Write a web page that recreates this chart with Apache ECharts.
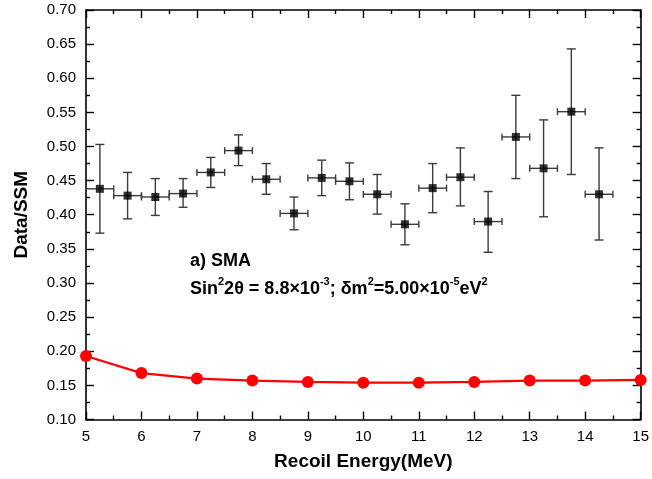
<!DOCTYPE html>
<html>
<head>
<meta charset="utf-8">
<script src="https://cdn.jsdelivr.net/npm/echarts@6/dist/echarts.min.js"></script>
<style>
html,body{margin:0;padding:0;background:#fff;}
#chart{width:652px;height:479px;}
</style>
</head>
<body>
<div id="chart"></div>
<script>
// Data
var binCenters = [5.25, 5.75, 6.25, 6.75, 7.25, 7.75, 8.25, 8.75, 9.25, 9.75, 10.25, 10.75, 11.25, 11.75, 12.25, 12.75, 13.25, 13.75, 14.25];
var binHalfWidth = [0.25, 0.25, 0.25, 0.25, 0.25, 0.25, 0.25, 0.25, 0.25, 0.25, 0.25, 0.25, 0.25, 0.25, 0.25, 0.25, 0.25, 0.25, 0.25];
var ratioValues = [0.438, 0.428, 0.426, 0.431, 0.462, 0.494, 0.452, 0.402, 0.454, 0.449, 0.430, 0.386, 0.439, 0.455, 0.390, 0.514, 0.468, 0.551, 0.430];
var ratioHigh   = [0.503, 0.462, 0.453, 0.453, 0.484, 0.517, 0.475, 0.426, 0.480, 0.476, 0.459, 0.416, 0.475, 0.498, 0.434, 0.575, 0.539, 0.643, 0.498];
var ratioLow    = [0.373, 0.394, 0.399, 0.411, 0.440, 0.472, 0.430, 0.378, 0.428, 0.422, 0.401, 0.356, 0.403, 0.413, 0.345, 0.453, 0.397, 0.459, 0.363];
var smaEnergy = [5, 6, 7, 8, 9, 10, 11, 12, 13, 14, 15];
var smaValues = [0.193, 0.168, 0.160, 0.157, 0.155, 0.154, 0.154, 0.155, 0.157, 0.157, 0.158];
var xTicks = [5, 6, 7, 8, 9, 10, 11, 12, 13, 14, 15];
var yTicks = [0.10, 0.15, 0.20, 0.25, 0.30, 0.35, 0.40, 0.45, 0.50, 0.55, 0.60, 0.65, 0.70];

var FONT = '"Liberation Sans", Arial, sans-serif';

var errData = binCenters.map(function (x, i) {
  return [x, ratioValues[i], x - binHalfWidth[i], x + binHalfWidth[i], ratioLow[i], ratioHigh[i]];
});
var pointData = binCenters.map(function (x, i) { return [x, ratioValues[i]]; });
var smaData = smaEnergy.map(function (x, i) { return [x, smaValues[i]]; });

function renderErr(params, api) {
  var x = api.value(0), y = api.value(1);
  var c = api.coord([x, y]);
  var l = api.coord([api.value(2), y]);
  var r = api.coord([api.value(3), y]);
  var lo = api.coord([x, api.value(4)]);
  var hi = api.coord([x, api.value(5)]);
  var st = { stroke: '#3a3a3a', lineWidth: 1.4 };
  var hc = 3.5, vc = 4.5;
  return {
    type: 'group',
    children: [
      { type: 'line', shape: { x1: l[0], y1: c[1], x2: r[0], y2: c[1] }, style: st },
      { type: 'line', shape: { x1: l[0], y1: c[1] - hc, x2: l[0], y2: c[1] + hc }, style: st },
      { type: 'line', shape: { x1: r[0], y1: c[1] - hc, x2: r[0], y2: c[1] + hc }, style: st },
      { type: 'line', shape: { x1: c[0], y1: lo[1], x2: c[0], y2: hi[1] }, style: st },
      { type: 'line', shape: { x1: c[0] - vc, y1: lo[1], x2: c[0] + vc, y2: lo[1] }, style: st },
      { type: 'line', shape: { x1: c[0] - vc, y1: hi[1], x2: c[0] + vc, y2: hi[1] }, style: st }
    ]
  };
}

var axisLineStyle = { show: true, lineStyle: { color: '#000', width: 1.6 } };
var tickStyle = { show: true, inside: true, length: 8, lineStyle: { color: '#000', width: 1.4 } };
var minorStyle = { show: true, splitNumber: 2, length: 4, lineStyle: { color: '#000', width: 1.4 } };

var chart = echarts.init(document.getElementById('chart'), null, { renderer: 'canvas' });
chart.setOption({
  backgroundColor: '#fff',
  animation: false,
  grid: { left: 86, right: 9.5, top: 10, bottom: 59.5, containLabel: false },
  xAxis: [
    {
      type: 'value', min: 5, max: 15, interval: 1, position: 'bottom',
      axisLine: axisLineStyle, axisTick: tickStyle, minorTick: minorStyle,
      splitLine: { show: false },
      axisLabel: { margin: 10, color: '#000', fontSize: 15, fontFamily: FONT,
        formatter: function (v) { return xTicks.indexOf(v) >= 0 ? String(v) : ''; } },
      name: 'Recoil Energy(MeV)', nameLocation: 'middle', nameGap: 33,
      nameTextStyle: { fontSize: 19, fontWeight: 'bold', color: '#000', fontFamily: FONT }
    },
    {
      type: 'value', min: 5, max: 15, interval: 1, position: 'top',
      axisLine: axisLineStyle, axisTick: tickStyle, minorTick: minorStyle,
      splitLine: { show: false }, axisLabel: { show: false }
    }
  ],
  yAxis: [
    {
      type: 'value', min: 0.1, max: 0.7, interval: 0.05, position: 'left',
      axisLine: axisLineStyle, axisTick: tickStyle, minorTick: minorStyle,
      splitLine: { show: false },
      axisLabel: { margin: 10, color: '#000', fontSize: 15, fontFamily: FONT,
        formatter: function (v) { return v.toFixed(2); } },
      name: 'Data/SSM', nameLocation: 'middle', nameGap: 55,
      nameTextStyle: { fontSize: 19, fontWeight: 'bold', color: '#000', fontFamily: FONT }
    },
    {
      type: 'value', min: 0.1, max: 0.7, interval: 0.05, position: 'right',
      axisLine: axisLineStyle, axisTick: tickStyle, minorTick: minorStyle,
      splitLine: { show: false }, axisLabel: { show: false }
    }
  ],
  series: [
    {
      type: 'custom', name: 'err', xAxisIndex: 0, yAxisIndex: 0,
      renderItem: renderErr, data: errData, clip: false, z: 3
    },
    {
      type: 'scatter', name: 'data', xAxisIndex: 0, yAxisIndex: 0,
      symbol: 'rect', symbolSize: 8, itemStyle: { color: '#000' },
      data: pointData, z: 4
    },
    {
      type: 'line', name: 'SMA', xAxisIndex: 0, yAxisIndex: 0,
      symbol: 'circle', symbolSize: 12, clip: false,
      lineStyle: { color: '#ff0000', width: 2.2 },
      itemStyle: { color: '#ff0000' },
      data: smaData, z: 5
    }
  ],
  graphic: [
    {
      type: 'text', left: 190, top: 252,
      style: { text: 'a) SMA', font: 'bold 18px ' + FONT, fill: '#000' }
    },
    {
      type: 'text', left: 190, top: 276,
      style: {
        text: '{n|Sin}{s|2}{n|2θ = 8.8×10}{s|-3}{n|; δm}{s|2}{n|=5.00×10}{s|-5}{n|eV}{s|2}',
        rich: {
          n: { fontFamily: FONT, fontWeight: 'bold', fontSize: 18, fill: '#000', lineHeight: 22, verticalAlign: 'bottom' },
          s: { fontFamily: FONT, fontWeight: 'bold', fontSize: 11, fill: '#000', lineHeight: 12, verticalAlign: 'top' }
        }
      }
    }
  ]
});
</script>
</body>
</html>
